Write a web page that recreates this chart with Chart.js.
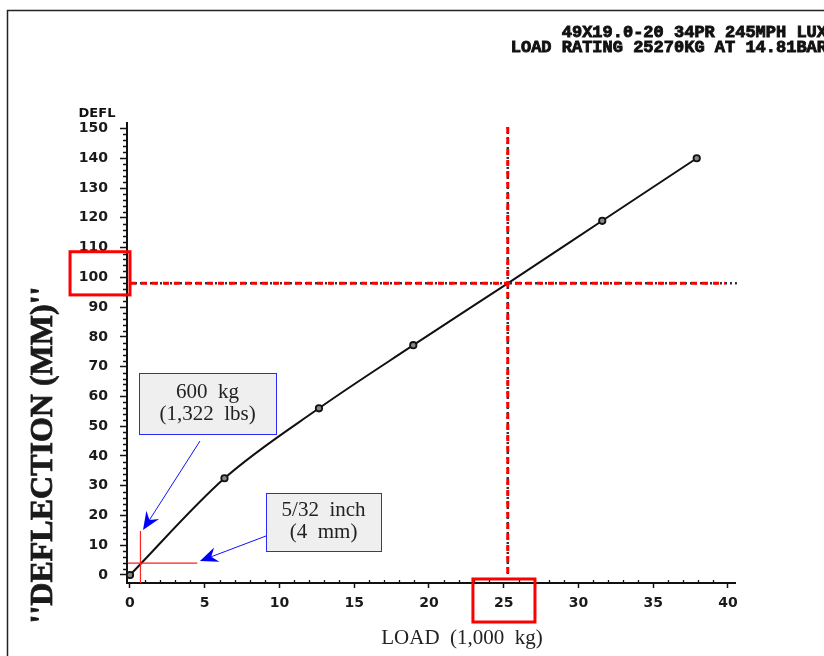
<!DOCTYPE html>
<html>
<head>
<meta charset="utf-8">
<script src="https://cdn.jsdelivr.net/npm/chart.js@4.4.1/dist/chart.umd.min.js"></script>
<style>
html,body{margin:0;padding:0;background:#fff;}
#wrap{width:824px;height:656px;position:relative;}
</style>
</head>
<body>
<div id="wrap"><canvas id="c" width="824" height="656"></canvas></div>
<script>
// ---- data ----
const loads = [0, 6.32, 12.64, 18.95, 25.27, 31.59, 37.91];        // 1,000 kg
const deflection = [0, 32.5, 56, 77.2, 98, 119, 140];              // mm
const markerShown = [true, true, true, true, false, true, true];
const xTickLabels = [0, 5, 10, 15, 20, 25, 30, 35, 40];
const yTickLabels = [0, 10, 20, 30, 40, 50, 60, 70, 80, 90, 100, 110, 120, 130, 140, 150];
const headerLines = ['49X19.0-20 34PR 245MPH LUX', 'LOAD RATING 25270KG AT 14.81BAR'];
const yTitle = "''DEFLECTION (MM)''";
const yShortLabel = 'DEFL';
const xTitle = 'LOAD  (1,000  kg)';
const ratedLoad = 25.27;
const ratedDeflection = 98;
const smallLoad = 0.7;        // ~600 kg
const smallDeflection = 4;    // 4 mm
const note1 = ['600  kg', '(1,322  lbs)'];
const note2 = ['5/32  inch', '(4  mm)'];

const X_MIN = -0.2, X_MAX = 40.47, Y_MIN = -2.69, Y_MAX = 151.85;

function px(chart, x, y) {
  return [chart.scales.x.getPixelForValue(x), chart.scales.y.getPixelForValue(y)];
}

function arrow(ctx, x1, y1, x2, y2) {
  const ang = Math.atan2(y2 - y1, x2 - x1);
  const L = 18, W = 7.5, N = 12;
  ctx.strokeStyle = '#1010ff';
  ctx.fillStyle = '#0000ff';
  ctx.lineWidth = 1;
  ctx.beginPath();
  ctx.moveTo(x1, y1);
  ctx.lineTo(x2 - Math.cos(ang) * N, y2 - Math.sin(ang) * N);
  ctx.stroke();
  const bx = x2 - Math.cos(ang) * L, by = y2 - Math.sin(ang) * L;
  const nx = x2 - Math.cos(ang) * N, ny = y2 - Math.sin(ang) * N;
  ctx.beginPath();
  ctx.moveTo(x2, y2);
  ctx.lineTo(bx + Math.sin(ang) * W, by - Math.cos(ang) * W);
  ctx.lineTo(nx, ny);
  ctx.lineTo(bx - Math.sin(ang) * W, by + Math.cos(ang) * W);
  ctx.closePath();
  ctx.fill();
}

function noteBox(chart, ctx, x1, y1, x2, y2, lines) {
  const [a, b] = px(chart, x1, y1);
  const [c, d] = px(chart, x2, y2);
  ctx.fillStyle = '#efefef';
  ctx.fillRect(a, b, c - a, d - b);
  ctx.strokeStyle = '#2a2aff';
  ctx.lineWidth = 1;
  ctx.strokeRect(Math.round(a) + 0.5, Math.round(b) + 0.5, Math.round(c - a), Math.round(d - b));
  ctx.fillStyle = '#222';
  ctx.font = '21px "Liberation Serif", serif';
  ctx.textAlign = 'center';
  ctx.textBaseline = 'middle';
  const cx = (a + c) / 2, cy = (b + d) / 2;
  ctx.fillText(lines[0], cx, cy - 11);
  ctx.fillText(lines[1], cx, cy + 11);
}

const overlay = {
  id: 'overlay',
  afterDatasetsDraw(chart) {
    const ctx = chart.ctx;
    ctx.save();
    // rated load crosshair (black dotted under red dashes)
    const [hx1, hy] = px(chart, 0, ratedDeflection);
    const [hx2] = px(chart, 40.6, ratedDeflection);
    const [vx, vy1] = px(chart, ratedLoad, 150.5);
    const [, vy2] = px(chart, ratedLoad, -0.5);
    ctx.lineWidth = 2.5;
    ctx.strokeStyle = '#333';
    ctx.setLineDash([2, 3]);
    ctx.beginPath(); ctx.moveTo(hx1, hy); ctx.lineTo(hx2, hy); ctx.moveTo(vx, vy1); ctx.lineTo(vx, vy2); ctx.stroke();
    ctx.strokeStyle = '#ff0000';
    ctx.lineWidth = 3;
    ctx.setLineDash([6, 5]);
    ctx.beginPath(); ctx.moveTo(hx1, hy); ctx.lineTo(hx2 - 12, hy); ctx.moveTo(vx, vy1); ctx.lineTo(vx, vy2 - 3); ctx.stroke();
    ctx.setLineDash([]);

    // small-load red cross
    ctx.strokeStyle = '#ff2020';
    ctx.lineWidth = 1.2;
    const [sx, sy1] = px(chart, smallLoad, 14.8);
    const [, sy2] = px(chart, smallLoad, Y_MIN);
    const [lx1, ly] = px(chart, X_MIN, smallDeflection);
    const [lx2] = px(chart, 4.5, smallDeflection);
    ctx.beginPath(); ctx.moveTo(sx, sy1); ctx.lineTo(sx, sy2); ctx.moveTo(lx1, ly); ctx.lineTo(lx2, ly); ctx.stroke();

    // notes + arrows
    noteBox(chart, ctx, 0.6, 67.9, 9.77, 47.4, note1);
    noteBox(chart, ctx, 9.1, 27.6, 16.8, 8.1, note2);
    let [a1, b1] = px(chart, 4.68, 45.0);
    let [a2, b2] = px(chart, 0.87, 15.1);
    arrow(ctx, a1, b1, a2, b2);
    [a1, b1] = px(chart, 9.1, 13.1);
    [a2, b2] = px(chart, 4.68, 4.7);
    arrow(ctx, a1, b1, a2, b2);
    ctx.restore();
  },
  afterDraw(chart) {
    const ctx = chart.ctx;
    const xs = chart.scales.x, ys = chart.scales.y;
    ctx.save();
    // minor ticks
    ctx.strokeStyle = '#111';
    ctx.lineWidth = 1.3;
    ctx.beginPath();
    for (let v = 2; v <= 150; v += 2) {
      if (v % 10 === 0) continue;
      const y = Math.round(ys.getPixelForValue(v)) + 0.5;
      ctx.moveTo(xs.left - 4, y); ctx.lineTo(xs.left + 1, y);
    }
    for (let v = 1; v <= 40; v += 1) {
      if (v % 5 === 0) continue;
      const x = Math.round(xs.getPixelForValue(v)) + 0.5;
      ctx.moveTo(x, ys.bottom - 3); ctx.lineTo(x, ys.bottom + 1);
    }
    ctx.stroke();

    // frame
    ctx.strokeStyle = '#222';
    ctx.lineWidth = 1.5;
    ctx.beginPath(); ctx.moveTo(7.5, 656); ctx.lineTo(7.5, 10.5); ctx.lineTo(824, 10.5); ctx.stroke();

    // header
    ctx.fillStyle = '#111';
    ctx.strokeStyle = '#111';
    ctx.lineWidth = 0.9;
    ctx.font = 'bold 17px "Liberation Mono", monospace';
    ctx.textAlign = 'right';
    ctx.textBaseline = 'alphabetic';
    ctx.fillText(headerLines[0], 827, 37);
    ctx.strokeText(headerLines[0], 827, 37);
    ctx.fillText(headerLines[1], 827, 52);
    ctx.strokeText(headerLines[1], 827, 52);

    // DEFL
    ctx.font = 'bold 13px "DejaVu Sans", sans-serif';
    ctx.textAlign = 'center';
    ctx.textBaseline = 'middle';
    ctx.fillText(yShortLabel, 97, 114);

    // y title
    ctx.save();
    ctx.translate(44, 455);
    ctx.rotate(-Math.PI / 2);
    ctx.font = 'bold 32px "Liberation Serif", serif';
    ctx.fillStyle = '#1a1a1a';
    ctx.strokeStyle = '#1a1a1a';
    ctx.lineWidth = 0.8;
    ctx.textAlign = 'center';
    ctx.textBaseline = 'middle';
    ctx.fillText(yTitle, 0, 0);
    ctx.strokeText(yTitle, 0, 0);
    ctx.restore();

    // x title
    ctx.font = '21px "Liberation Serif", serif';
    ctx.fillStyle = '#222';
    ctx.textAlign = 'center';
    ctx.textBaseline = 'middle';
    ctx.fillText(xTitle, 462, 638);

    // red highlight boxes around 100 and 25 labels
    ctx.strokeStyle = '#ff0000';
    ctx.lineWidth = 3;
    let [a, b] = px(chart, -4.01, 108.6);
    let [c, d] = px(chart, 0.0, 94.1);
    ctx.strokeRect(a, b, c - a, d - b);
    [a, b] = px(chart, 22.94, -1.34);
    [c, d] = px(chart, 27.09, -15.8);
    ctx.strokeRect(a, b, c - a, d - b);
    ctx.restore();
  }
};

const tickFont = { family: '"DejaVu Sans", sans-serif', size: 14, weight: 'bold' };

new Chart(document.getElementById('c'), {
  type: 'line',
  data: {
    datasets: [{
      data: loads.map((x, i) => ({ x: x, y: deflection[i] })),
      borderColor: '#111',
      borderWidth: 2,
      cubicInterpolationMode: 'monotone',
      pointRadius: markerShown.map(s => s ? 3.2 : 0),
      pointBorderWidth: 1.8,
      pointBorderColor: '#111',
      pointBackgroundColor: '#888',
      clip: false
    }]
  },
  options: {
    responsive: false,
    animation: false,
    devicePixelRatio: 1,
    layout: { padding: { top: 123, right: 89, left: 0, bottom: 0 } },
    plugins: { legend: { display: false }, tooltip: { enabled: false } },
    scales: {
      x: {
        type: 'linear', min: X_MIN, max: X_MAX,
        afterFit(s) { s.height = 73; },
        afterBuildTicks(s) { s.ticks = xTickLabels.map(v => ({ value: v })); },
        border: { color: '#111', width: 2 },
        grid: { drawOnChartArea: false, color: '#111', tickLength: 5, tickWidth: 1.5 },
        ticks: { color: '#1a1a1a', font: tickFont, padding: 7, maxRotation: 0, autoSkip: false,
                 callback: v => String(v) }
      },
      y: {
        type: 'linear', min: Y_MIN, max: Y_MAX,
        afterFit(s) { s.width = 127; },
        afterBuildTicks(s) { s.ticks = yTickLabels.map(v => ({ value: v })); },
        border: { color: '#111', width: 2 },
        grid: { drawOnChartArea: false, color: '#111', tickLength: 7, tickWidth: 1.5 },
        ticks: { color: '#1a1a1a', font: tickFont, padding: 12, autoSkip: false,
                 callback: v => String(v) }
      }
    }
  },
  plugins: [overlay]
});
</script>
</body>
</html>
